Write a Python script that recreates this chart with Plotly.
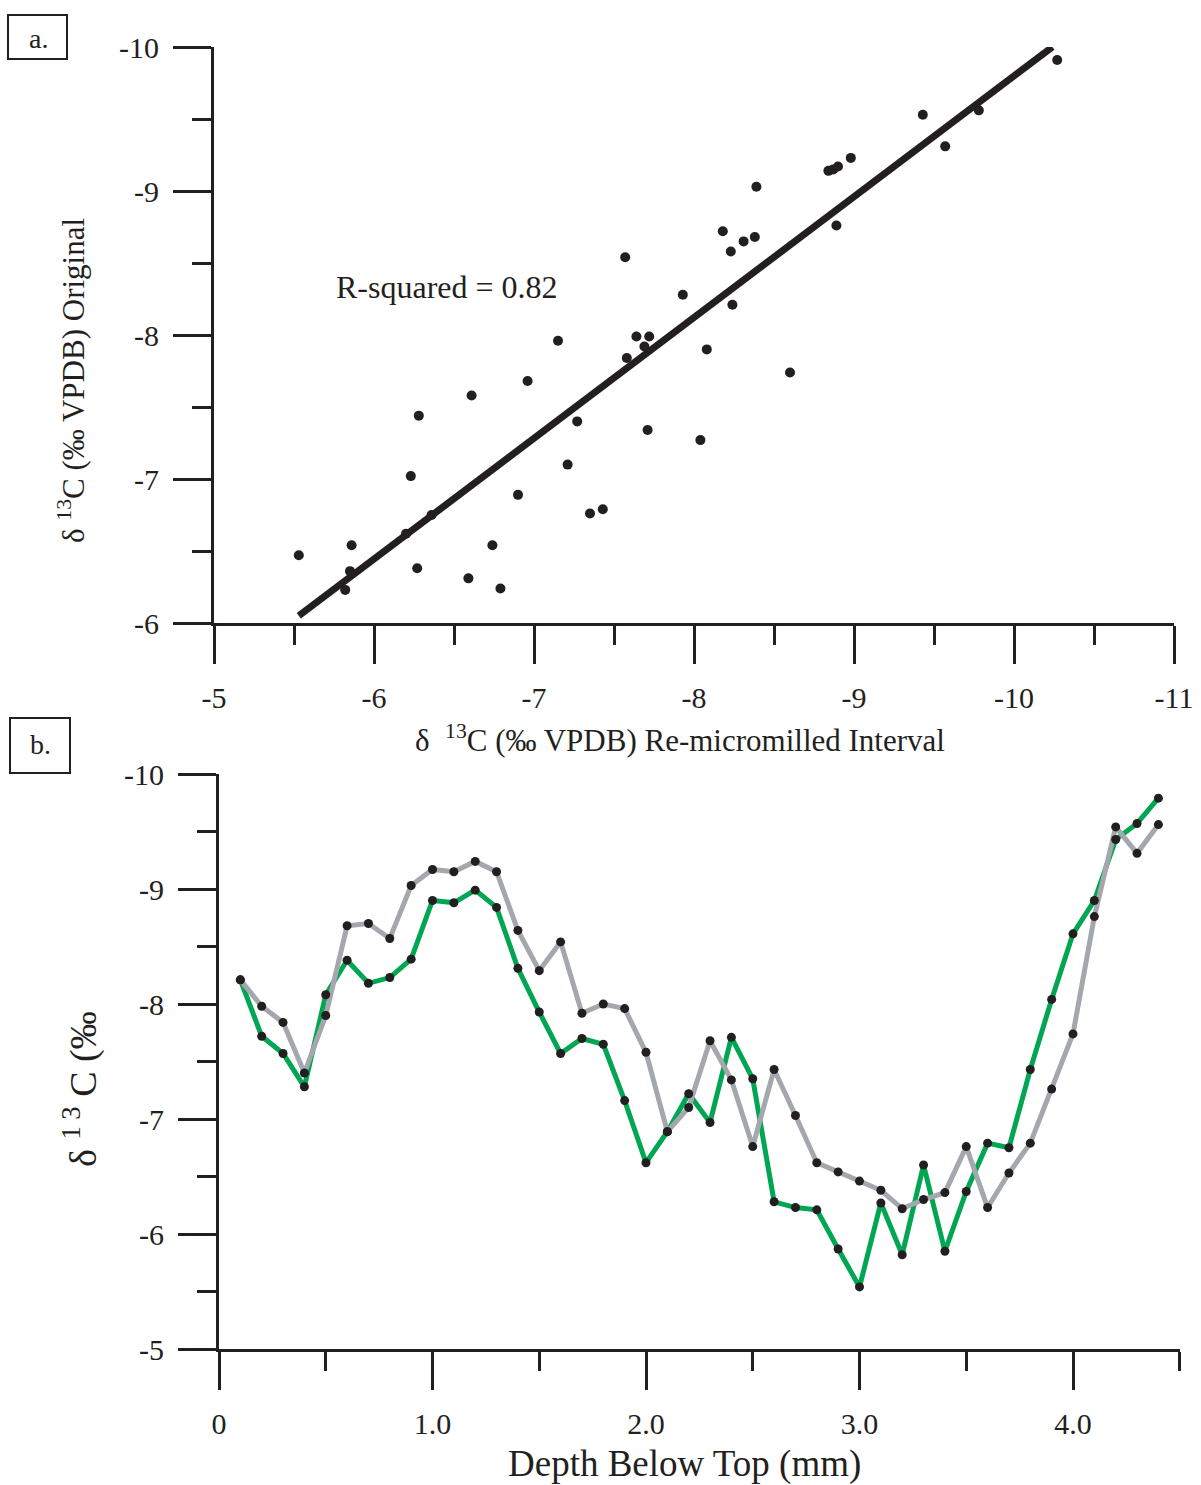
import plotly.graph_objects as go

W, H = 1201, 1485

# ---------- Panel a data ----------
remilled = [-5.53, -5.82, -5.85, -5.86, -6.20, -6.23, -6.27, -6.28, -6.36, -6.59,
            -6.61, -6.74, -6.79, -6.90, -6.96, -7.15, -7.21, -7.27, -7.35, -7.43,
            -7.57, -7.58, -7.64, -7.69, -7.71, -7.72, -7.93, -8.04, -8.08, -8.18,
            -8.23, -8.24, -8.31, -8.38, -8.39, -8.60, -8.84, -8.87, -8.90, -8.89,
            -8.98, -9.43, -9.57, -9.78, -10.27]
original = [-6.47, -6.23, -6.36, -6.54, -6.62, -7.02, -6.38, -7.44, -6.75, -6.31,
            -7.58, -6.54, -6.24, -6.89, -7.68, -7.96, -7.10, -7.40, -6.76, -6.79,
            -8.54, -7.84, -7.99, -7.92, -7.34, -7.99, -8.28, -7.27, -7.90, -8.72,
            -8.58, -8.21, -8.65, -8.68, -9.03, -7.74, -9.14, -9.15, -9.17, -8.76,
            -9.23, -9.53, -9.31, -9.56, -9.91]
fit_x = [-5.53, -10.24]
fit_y = [-6.05, -10.00]
r2_text = "R-squared = 0.82"

a_xticks = [-5, -6, -7, -8, -9, -10, -11]
a_xlabels = ["-5", "-6", "-7", "-8", "-9", "-10", "-11"]
a_xminor = [-5.5, -6.5, -7.5, -8.5, -9.5, -10.5]
a_yticks = [-6, -7, -8, -9, -10]
a_ylabels = ["-6", "-7", "-8", "-9", "-10"]
a_yminor = [-6.5, -7.5, -8.5, -9.5]
a_xtitle = "δ\u00a0\u00a0<sup>13</sup>C (‰ VPDB) Re-micromilled Interval"
a_ytitle = "δ <sup>13</sup>C (‰ VPDB) Original"

# ---------- Panel b data ----------
depth = [0.1, 0.2, 0.3, 0.4, 0.5, 0.6, 0.7, 0.8, 0.9, 1.0,
         1.1, 1.2, 1.3, 1.4, 1.5, 1.6, 1.7, 1.8, 1.9, 2.0,
         2.1, 2.2, 2.3, 2.4, 2.5, 2.6, 2.7, 2.8, 2.9, 3.0,
         3.1, 3.2, 3.3, 3.4, 3.5, 3.6, 3.7, 3.8, 3.9, 4.0,
         4.1, 4.2, 4.3, 4.4]
green_series = [-8.21, -7.72, -7.57, -7.28, -8.08, -8.38, -8.18, -8.23, -8.39, -8.90,
                -8.88, -8.99, -8.84, -8.31, -7.93, -7.57, -7.70, -7.65, -7.16, -6.62,
                -6.89, -7.22, -6.97, -7.71, -7.35, -6.28, -6.23, -6.21, -5.87, -5.54,
                -6.27, -5.82, -6.60, -5.85, -6.37, -6.79, -6.75, -7.43, -8.04, -8.61,
                -8.90, -9.43, -9.57, -9.79]
gray_series = [-8.21, -7.98, -7.84, -7.40, -7.90, -8.68, -8.70, -8.57, -9.03, -9.17,
               -9.15, -9.24, -9.15, -8.64, -8.29, -8.54, -7.92, -8.00, -7.96, -7.58,
               -6.89, -7.10, -7.68, -7.34, -6.76, -7.43, -7.03, -6.62, -6.54, -6.46,
               -6.38, -6.22, -6.30, -6.36, -6.76, -6.23, -6.53, -6.79, -7.26, -7.74,
               -8.76, -9.54, -9.31, -9.56]

b_xticks = [0, 1, 2, 3, 4]
b_xlabels = ["0", "1.0", "2.0", "3.0", "4.0"]
b_xminor = [0.5, 1.5, 2.5, 3.5, 4.5]
b_yticks = [-5, -6, -7, -8, -9, -10]
b_ylabels = ["-5", "-6", "-7", "-8", "-9", "-10"]
b_yminor = [-5.5, -6.5, -7.5, -8.5, -9.5]
b_xtitle = "Depth Below Top (mm)"
b_ytitle = "δ <sup>1 3</sup> C (‰"

INK = "#231f20"
GREEN = "#00a651"
GRAY = "#a4a7ad"
FONT = "Liberation Serif"


def px(x):
    return x / W


def py(y):
    return 1 - y / H


fig = go.Figure()

# Panel a
fig.add_trace(go.Scatter(x=fit_x, y=fit_y, mode="lines",
                         line=dict(color=INK, width=7), xaxis="x", yaxis="y",
                         showlegend=False, hoverinfo="skip"))
fig.add_trace(go.Scatter(x=remilled, y=original, mode="markers",
                         marker=dict(color=INK, size=10), xaxis="x", yaxis="y",
                         showlegend=False))

# Panel b
fig.add_trace(go.Scatter(x=depth, y=green_series, mode="lines",
                         line=dict(color=GREEN, width=5), xaxis="x2", yaxis="y2",
                         showlegend=False))
fig.add_trace(go.Scatter(x=depth, y=gray_series, mode="lines",
                         line=dict(color=GRAY, width=5), xaxis="x2", yaxis="y2",
                         showlegend=False))
fig.add_trace(go.Scatter(x=depth, y=green_series, mode="markers",
                         marker=dict(color=INK, size=9), xaxis="x2", yaxis="y2",
                         showlegend=False))
fig.add_trace(go.Scatter(x=depth, y=gray_series, mode="markers",
                         marker=dict(color=INK, size=9), xaxis="x2", yaxis="y2",
                         showlegend=False))

tickfont = dict(family=FONT, size=30, color=INK)


def axis_common(**kw):
    d = dict(showline=True, linewidth=3, linecolor=INK, ticks="outside",
             ticklen=38, tickwidth=3, tickcolor=INK, showgrid=False,
             zeroline=False, tickfont=tickfont, tickmode="array", fixedrange=True,
             automargin=False)
    d.update(kw)
    return d


def minor(vals):
    return dict(tickmode="array", tickvals=vals, ticks="outside", ticklen=19,
                tickwidth=3, tickcolor=INK, showgrid=False)


def label(x, y, text, size, angle=0):
    return dict(x=px(x), y=py(y), xref="paper", yref="paper", text=text,
                showarrow=False, textangle=angle,
                font=dict(family=FONT, size=size, color=INK),
                xanchor="center", yanchor="middle")


fig.update_layout(
    template="none",
    width=W, height=H, autosize=False,
    margin=dict(l=0, r=0, t=0, b=0, pad=0),
    paper_bgcolor="white", plot_bgcolor="white",
    font=dict(family=FONT, color=INK),
    xaxis=axis_common(domain=[px(214), px(1174)], range=[-5, -11], anchor="y",
                      tickvals=a_xticks, ticktext=a_xlabels, minor=minor(a_xminor),
                      ticklabelstandoff=8),
    yaxis=axis_common(domain=[py(623), py(47)], range=[-6, -10], anchor="x",
                      tickvals=a_yticks, ticktext=a_ylabels, minor=minor(a_yminor),
                      ticklabelstandoff=8),
    xaxis2=axis_common(domain=[px(219), px(1179.75)], range=[0, 4.5], anchor="y2",
                       tickvals=b_xticks, ticktext=b_xlabels, minor=minor(b_xminor),
                       ticklabelstandoff=8),
    yaxis2=axis_common(domain=[py(1349), py(774)], range=[-5, -10], anchor="x2",
                       tickvals=b_yticks, ticktext=b_ylabels, minor=minor(b_yminor),
                       ticklabelstandoff=8),
    annotations=[
        dict(x=-6.456, y=-8.333, xref="x", yref="y", text=r2_text, showarrow=False,
             font=dict(family=FONT, size=32, color=INK), xanchor="center", yanchor="middle"),
        label(680, 738, a_xtitle, 31),
        label(71, 381, a_ytitle, 31, -90),
        label(684, 1464, b_xtitle, 37),
        label(80, 1089, b_ytitle, 38, -90),
        label(38, 38, "a.", 28),
        label(40, 744, "b.", 28),
    ],
    shapes=[
        dict(type="rect", xref="paper", yref="paper", x0=px(8), x1=px(67),
             y0=py(59), y1=py(15), line=dict(color=INK, width=2)),
        dict(type="rect", xref="paper", yref="paper", x0=px(10), x1=px(70),
             y0=py(773), y1=py(718), line=dict(color=INK, width=2)),
    ],
)

fig.write_html("out.html")
